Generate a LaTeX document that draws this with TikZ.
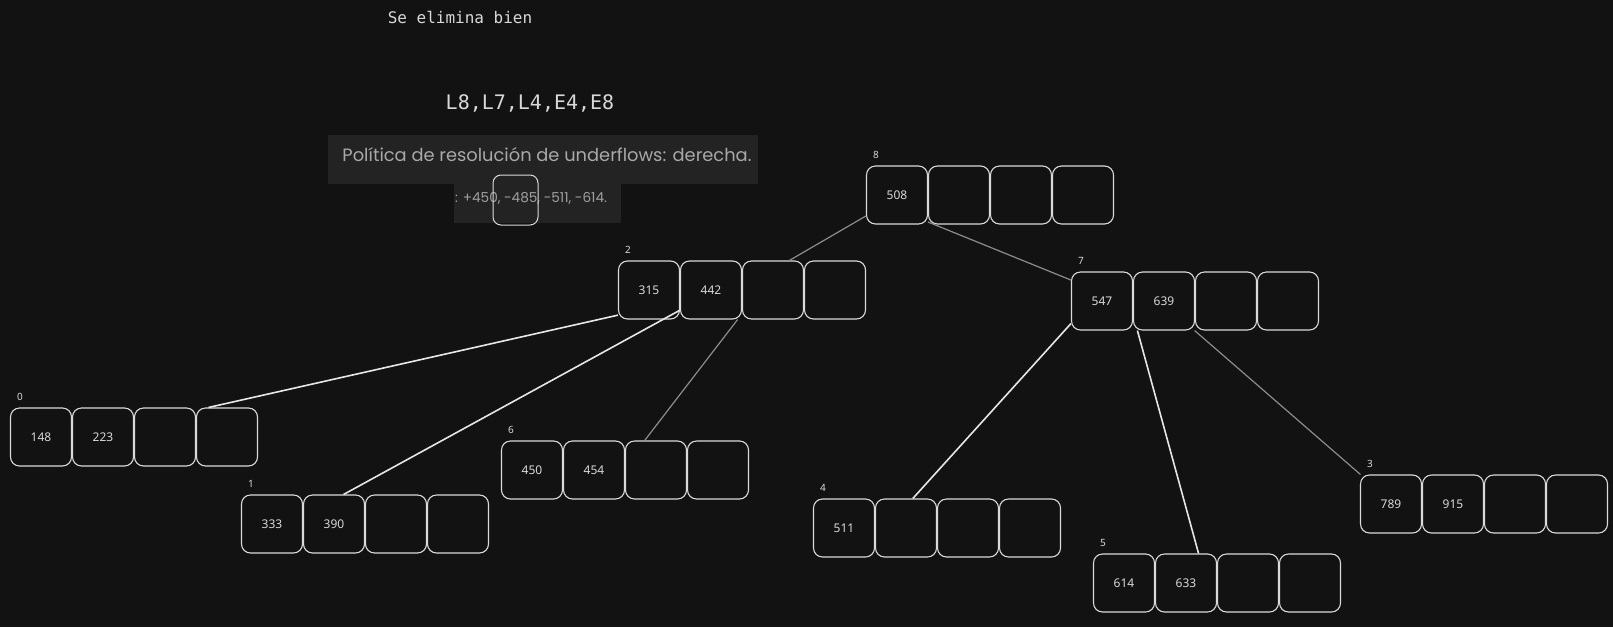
\documentclass[tikz,border=0pt]{standalone}
\usepackage{fontspec}
\setmainfont{Noto Sans}
\newfontfamily\codefont{DejaVu Sans Mono}
\newfontfamily\geofont{Poppins}
\usetikzlibrary{calc}
\definecolor{bgc}{HTML}{121212}
\definecolor{cellc}{HTML}{DADADA}
\definecolor{keyc}{HTML}{D8D8D8}
\definecolor{panelc}{HTML}{232323}
\definecolor{paneltxt}{HTML}{A9A9A9}
\definecolor{wire}{HTML}{E6E6E6}
\definecolor{wiredim}{HTML}{8C8C8C}

% one B-tree page: four cells named #1a..#1d, first cell centred at (#2,#3)
\newcommand{\btpage}[6]{%
  \node[cell] (#1a) at (#2,#3) {#4};
  \node[cell] (#1b) at (#2+62,#3) {#5};
  \node[cell] (#1c) at (#2+124,#3) {};
  \node[cell] (#1d) at (#2+186,#3) {};
  \node[pageno] (#1no) at (#2-21,#3-40) {#6};
}

\begin{document}
\begin{tikzpicture}[x=1pt,y=-1pt,
  cell/.style={draw=cellc, line width=1.1pt, rounded corners=9pt,
    minimum width=61pt, minimum height=58pt, inner sep=0pt,
    font=\fontsize{12}{12}\selectfont, text=keyc},
  pageno/.style={font=\fontsize{10}{10}\selectfont, text=keyc, inner sep=0pt},
  link/.style={draw=wire, line width=1.6pt},
  linkdim/.style={draw=wiredim, line width=1.2pt},
  panel/.style={fill=panelc, inner sep=0pt, anchor=north west}]

\fill[bgc] (0,0) rectangle (1613,627);
\useasboundingbox (0,0) rectangle (1613,627);

% heading texts
\node[text=keyc, font=\codefont\fontsize{16}{16}\selectfont] (title) at (460,17) {Se elimina bien};
\node[text=keyc, font=\codefont\fontsize{20}{20}\selectfont] (ops) at (530,103) {L8,L7,L4,E4,E8};

% grey notice panels
\fill[panelc] (328,135) rectangle (758,184);
\fill[panelc] (454,184) rectangle (621,223);
\node[text=paneltxt, inner sep=0pt] (policy) at (547,155)
  {\resizebox{409pt}{!}{\geofont Política de resolución de underflows: derecha.}};
\node[text=paneltxt!110, inner sep=0pt] (keys) at (531,198)
  {\resizebox{152pt}{!}{\geofont : +450, -485, -511, -614.}};
\node[draw=cellc, line width=1pt, rounded corners=8pt, minimum width=45pt,
  minimum height=50pt, inner sep=0pt] (mark) at (515.5,200) {};

% pages of the tree
\btpage{n8}{897}{195}{508}{}{8}
\btpage{n2}{649}{290}{315}{442}{2}
\btpage{n7}{1102}{301}{547}{639}{7}
\btpage{n0}{41}{437}{148}{223}{0}
\btpage{n1}{272}{524}{333}{390}{1}
\btpage{n6}{532}{470}{450}{454}{6}
\btpage{n4}{844}{528}{511}{}{4}
\btpage{n5}{1124}{583}{614}{633}{5}
\btpage{n3}{1391}{504}{789}{915}{3}

% child pointers
\draw[linkdim] (n8a.214) -- (n2c.61);
\draw[linkdim] (n8b.221) -- (n7a.146);
\draw[link, draw=wire!90] (n2a.219) -- (n0d.122);
\draw[link] (n2b.213) -- (n1b.72);
\draw[linkdim] (n2b.312) -- (n6c.111);
\draw[link] (n7a.216) -- (n4b.77);
\draw[link] (n7b.228) -- (n5b.67);
\draw[linkdim] (n7b.316) -- (n3a.136);
\end{tikzpicture}
\end{document}
